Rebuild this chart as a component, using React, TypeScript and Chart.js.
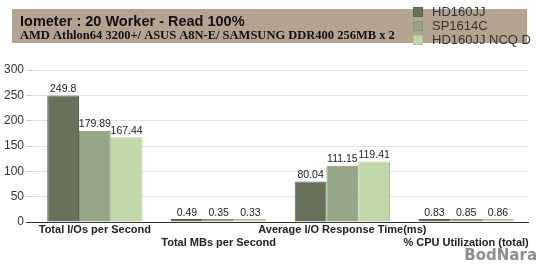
import React, { useEffect, useRef } from "react";
import { Chart, registerables } from "chart.js";

Chart.register(...registerables);

const categories: (string | string[])[] = [
  ["Total I/Os per Second", ""],
  ["", "Total MBs per Second"],
  ["Average I/O Response Time(ms)", ""],
  ["", "% CPU Utilization (total)"],
];
const seriesNames = ["HD160JJ", "SP1614C", "HD160JJ NCQ D"];
const hd160jj = [249.8, 0.49, 80.04, 0.83];
const sp1614c = [179.89, 0.35, 111.15, 0.85];
const ncq = [167.44, 0.33, 119.41, 0.86];
const yTicks = [0, 50, 100, 150, 200, 250, 300];
const titleText = "Iometer : 20 Worker - Read 100%";
const subtitleText = "AMD Athlon64 3200+/ ASUS A8N-E/ SAMSUNG DDR400 256MB x 2";
const watermark = "BodNara";

const colors = ["#68725a", "#95a686", "#c1d8aa"];
const borders = ["#5a6350", "#85967a", "#aec79a"];

const decorPlugin = {
  id: "decor",
  beforeDraw(chart: any) {
    const ctx = chart.ctx;
    ctx.save();
    ctx.fillStyle = "#b5a392";
    ctx.fillRect(12, 9, 515, 34);
    ctx.fillStyle = "#111";
    ctx.textBaseline = "middle";
    ctx.textAlign = "left";
    ctx.font = "bold 14.5px 'Liberation Sans', Arial, sans-serif";
    ctx.fillText(titleText, 20, 22);
    ctx.font = "bold 12.5px 'Liberation Serif', serif";
    ctx.fillText(subtitleText, 20, 36);
    // legend
    const rows = [12, 26, 40];
    ctx.font = "13px 'Liberation Sans', Arial, sans-serif";
    seriesNames.forEach((n, i) => {
      ctx.fillStyle = colors[i];
      ctx.fillRect(413, rows[i] - 5, 10, 10);
      ctx.strokeStyle = borders[i];
      ctx.lineWidth = 1;
      ctx.strokeRect(413.5, rows[i] - 4.5, 9, 9);
      ctx.fillStyle = "#333";
      ctx.fillText(n, 432, rows[i] + 0.5);
    });
    ctx.restore();
  },
  afterDraw(chart: any) {
    const ctx = chart.ctx;
    ctx.save();
    // data labels
    ctx.font = "10.5px 'Liberation Sans', Arial, sans-serif";
    ctx.fillStyle = "#222";
    ctx.textAlign = "center";
    ctx.textBaseline = "bottom";
    chart.data.datasets.forEach((ds: any, di: number) => {
      const meta = chart.getDatasetMeta(di);
      meta.data.forEach((bar: any, i: number) => {
        ctx.fillText(String(ds.data[i]), bar.x, bar.y - 1);
      });
    });
    // watermark
    ctx.font = "bold 15px 'DejaVu Sans', sans-serif";
    ctx.fillStyle = "#8f8f8f";
    ctx.textAlign = "right";
    ctx.textBaseline = "middle";
    ctx.fillText(watermark, 537, 256);
    ctx.restore();
  },
};

export default function App() {
  const ref = useRef<HTMLCanvasElement | null>(null);
  useEffect(() => {
    if (!ref.current) return;
    const chart = new Chart(ref.current, {
      type: "bar",
      data: {
        labels: categories,
        datasets: [hd160jj, sp1614c, ncq].map((d, i) => ({
          label: seriesNames[i],
          data: d,
          backgroundColor: colors[i],
          borderColor: borders[i],
          borderWidth: 1,
          minBarLength: 3,
          categoryPercentage: 0.77,
          barPercentage: 1.0,
        })),
      },
      options: {
        animation: false,
        responsive: false,
        maintainAspectRatio: false,
        layout: { padding: { top: 70, right: 12, left: 0, bottom: 0 } },
        plugins: { legend: { display: false }, tooltip: { enabled: false } },
        scales: {
          x: {
            grid: { display: false, drawTicks: false },
            border: { color: "#333", width: 1 },
            ticks: {
              color: "#222",
              font: { family: "'Liberation Sans', Arial, sans-serif", size: 11, weight: "bold" },
              padding: 1,
              maxRotation: 0,
              autoSkip: false,
            },
            afterFit: (s: any) => {
              s.height = 45;
            },
          },
          y: {
            min: 0,
            max: 300,
            afterBuildTicks: (s: any) => {
              s.ticks = yTicks.map((v) => ({ value: v }));
            },
            grid: {
              color: "#e2e2e2",
              tickColor: (c: any) => (c.tick && c.tick.value === 0 ? "#333" : "#cfcfcf"),
              tickLength: 7,
            },
            border: { display: false },
            ticks: {
              color: "#333",
              font: { family: "'Liberation Sans', Arial, sans-serif", size: 12 },
              padding: 2,
            },
            afterFit: (s: any) => {
              s.width = 33;
            },
          },
        },
      },
      plugins: [decorPlugin],
    });
    return () => chart.destroy();
  }, []);
  return (
    <div style={{ position: "absolute", left: 0, top: 0, width: 540, height: 267, background: "#fff" }}>
      <canvas ref={ref} width={540} height={267} style={{ width: 540, height: 267 }} />
    </div>
  );
}
